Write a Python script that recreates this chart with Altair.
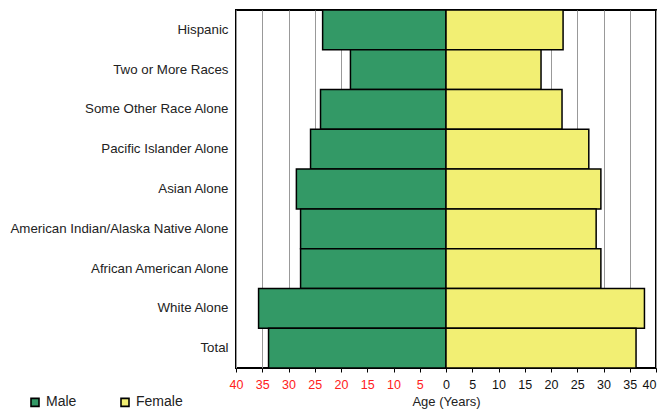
import altair as alt
import pandas as pd

categories = ["Hispanic", "Two or More Races", "Some Other Race Alone",
              "Pacific Islander Alone", "Asian Alone",
              "American Indian/Alaska Native Alone", "African American Alone",
              "White Alone", "Total"]
male_age = [23.5, 18.2, 23.9, 25.8, 28.5, 27.7, 27.7, 35.7, 33.8]
female_age = [22.3, 18.1, 22.1, 27.2, 29.5, 28.6, 29.5, 37.8, 36.2]
sexes = ["Male", "Female"]
colors = ["#339966", "#F2EF73"]
x_ticks = list(range(-40, 41, 5))

rows = []
for c, m, f in zip(categories, male_age, female_age):
    rows.append({"category": c, "sex": "Male", "age": -m})
    rows.append({"category": c, "sex": "Female", "age": f})
df = pd.DataFrame(rows)

FONT = "Liberation Sans"

chart = alt.Chart(df).mark_bar(stroke="black", strokeWidth=1.5).encode(
    x=alt.X("age:Q", stack=None,
            scale=alt.Scale(domain=[-40, 40], nice=False, zero=True),
            axis=alt.Axis(values=x_ticks, title="Age (Years)",
                          labelExpr="abs(datum.value)",
                          labelColor={"condition": {"test": "datum.value < 0", "value": "#FF2020"},
                                      "value": "#111111"},
                          labelAlign={"condition": {"test": "datum.value == 40", "value": "right"},
                                      "value": "center"},
                          grid=True, gridColor="#999999", gridWidth=1,
                          tickColor="black", tickSize=4, tickWidth=1,
                          domain=False, labelPadding=6, labelFontSize=12.5,
                          labelLimit=0,
                          titleFontSize=13, titleFontWeight="normal",
                          titleY=27, titleBaseline="top",
                          labelFont=FONT, titleFont=FONT,
                          titleColor="#222222")),
    y=alt.Y("category:N", sort=categories,
            scale=alt.Scale(paddingInner=0, paddingOuter=0),
            axis=alt.Axis(title=None, ticks=False, domain=False, grid=False,
                          labelFontSize=13.3, labelFont=FONT, labelPadding=8,
                          labelLimit=0, labelColor="#222222")),
    color=alt.Color("sex:N", scale=alt.Scale(domain=sexes, range=colors),
                    legend=alt.Legend(title=None, orient="none", direction="horizontal",
                                      legendX=-208, legendY=385,
                                      symbolType="square", symbolSize=64,
                                      symbolStrokeColor="black", symbolStrokeWidth=1.6,
                                      labelFontSize=14, labelFont=FONT,
                                      labelColor="#222222", labelOffset=4,
                                      columnPadding=40, padding=0)),
).properties(
    width=420, height=358,
    autosize=alt.AutoSizeParams(type="none"),
    padding={"left": 228, "top": 2, "right": 1, "bottom": 43},
).configure_view(
    stroke="black", strokeWidth=2
).configure_legend(
    symbolOpacity=1
)

chart.save("out.html", embed_options={"renderer": "svg", "actions": False})
